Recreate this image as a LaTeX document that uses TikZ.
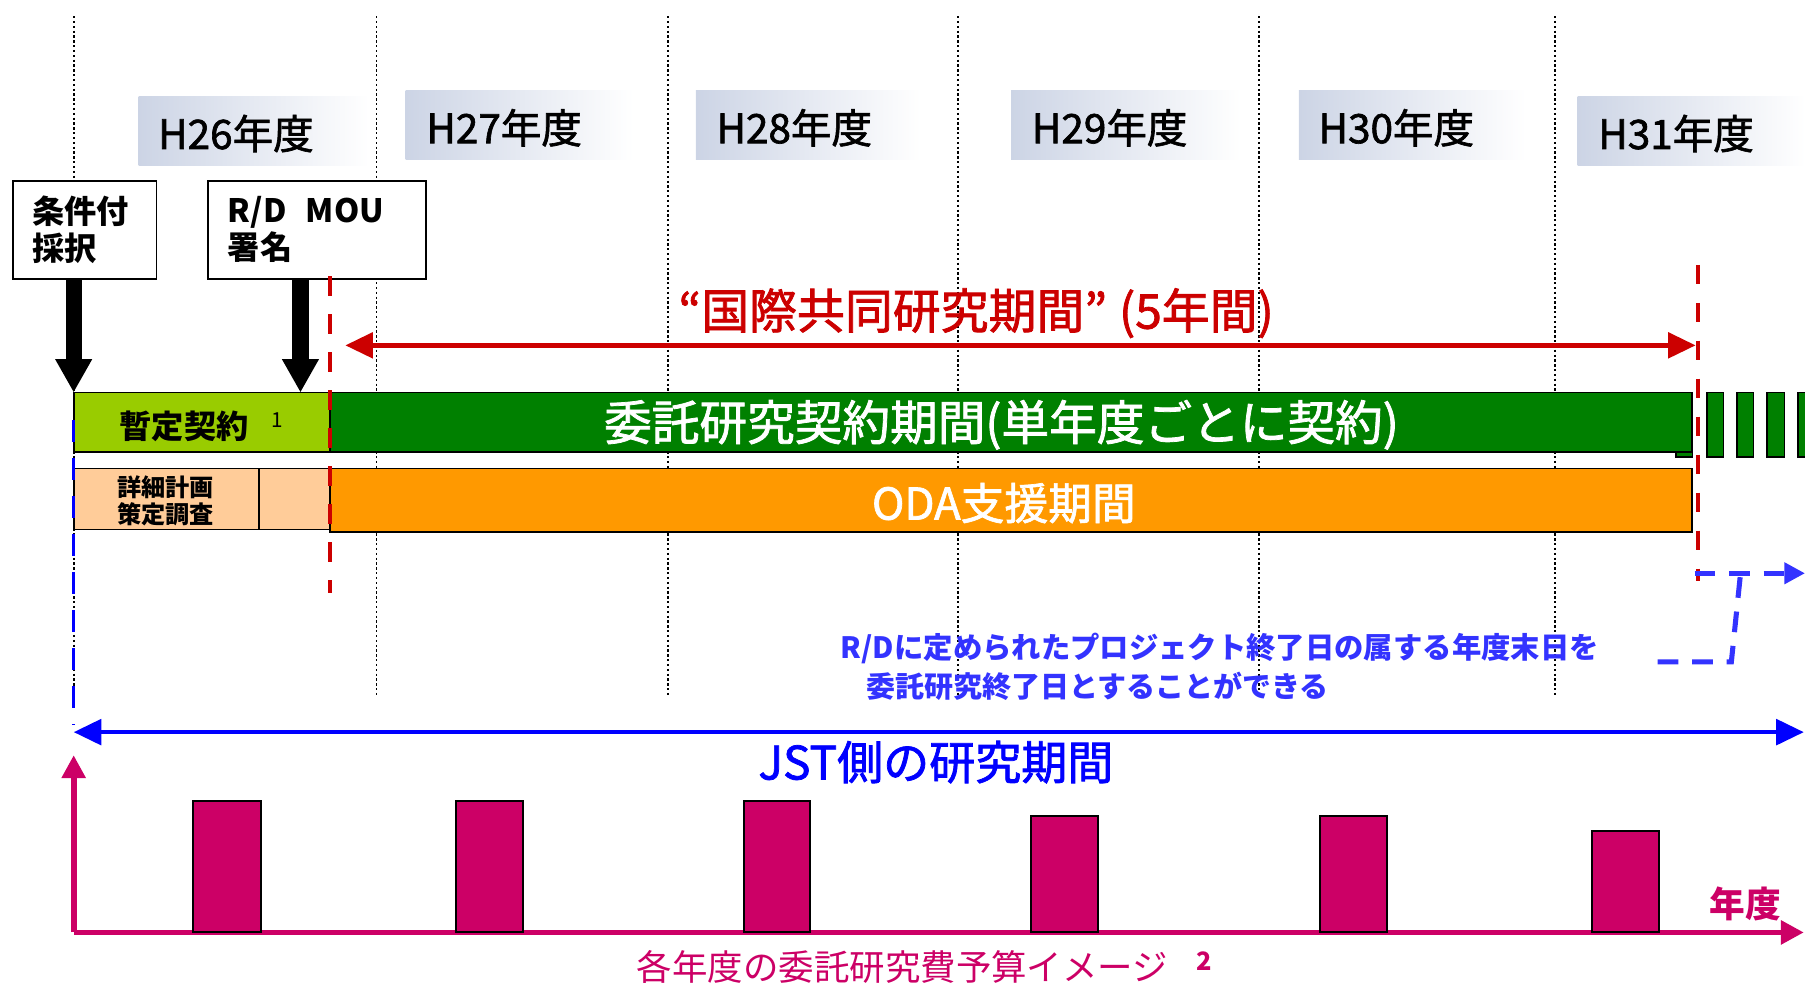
\documentclass[tikz,border=0pt]{standalone}
\usepackage{fontspec}
\setmainfont{Noto Sans CJK JP}
\newfontfamily\medfont[FakeBold=1.6]{Noto Sans CJK JP}
\usetikzlibrary{arrows.meta}
\definecolor{hdr}{HTML}{CCD4E5}
\definecolor{tred}{HTML}{CC0000}
\definecolor{ygreen}{HTML}{99CC00}
\definecolor{dgreen}{HTML}{008000}
\definecolor{peach}{HTML}{FFCC99}
\definecolor{orng}{HTML}{FF9900}
\definecolor{nblue}{HTML}{3333FF}
\definecolor{jblue}{HTML}{0000FF}
\definecolor{mag}{HTML}{CC0066}
\newcommand{\setfs}[1]{\fontsize{#1}{#1}\selectfont}
\tikzset{
  dotv/.style={line width=0.8pt, dash pattern=on 1pt off 1.1pt},
  yearbox/.style={shade, left color=hdr, right color=white, inner sep=0pt, anchor=north west, minimum height=30pt},
  yeartext/.style={anchor=west, inner sep=0pt, font=\medfont\setfs{17.6pt}},
  labbox/.style={draw=black, line width=0.8pt, fill=white, inner xsep=8.5pt, inner ysep=0pt, minimum height=42.5pt, align=left, font=\fontsize{14pt}{16pt}\selectfont\bfseries},
  bar/.style={draw=black, line width=0.8pt, inner sep=0pt},
  bigarrow/.style={line width=7pt, -{Triangle[width=15pt,length=14.5pt]}},
  reddash/.style={tred, line width=1.8pt, dash pattern=on 8.5pt off 8pt},
  redarrow/.style={tred, line width=2pt, {Triangle[width=11pt,length=12pt]}-{Triangle[width=11pt,length=12pt]}},
  bluearrow/.style={jblue, line width=2pt, {Triangle[width=11pt,length=12pt]}-{Triangle[width=11pt,length=12pt]}},
  bluedash/.style={nblue, line width=2.2pt, dash pattern=on 9pt off 6pt},
  blueleft/.style={jblue, line width=1.4pt, dash pattern=on 9.5pt off 7pt},
  magaxis/.style={mag, line width=2.5pt, -{Triangle[width=10pt,length=10pt]}},
  magbar/.style={fill=mag, draw=black, line width=0.9pt},
  whitetxt/.style={white, inner sep=0pt},
}
\begin{document}
\begin{tikzpicture}[x=0.5pt,y=-0.5pt]
\useasboundingbox (0,0) rectangle (1568,856);

% vertical dotted year dividers
\foreach \xx in {64,327,580,832,1094,1351}
  \draw[dotv] (\xx,14) -- (\xx,605);

% year headings
\node[yearbox, minimum width=100pt] (h26) at (120,83) {};
\node[yearbox, minimum width=99pt]  (h27) at (352,78) {};
\node[yearbox, minimum width=98pt]  (h28) at (604,78) {};
\node[yearbox, minimum width=100pt] (h29) at (878,78) {};
\node[yearbox, minimum width=98.5pt] (h30) at (1128,78) {};
\node[yearbox, minimum width=99pt]  (h31) at (1370,83) {};
\node[yeartext] (h26t) at (137,116) {H26年度};
\node[yeartext] (h27t) at (370,111) {H27年度};
\node[yeartext] (h28t) at (622,111) {H28年度};
\node[yeartext] (h29t) at (896,111) {H29年度};
\node[yeartext] (h30t) at (1145,111) {H30年度};
\node[yeartext] (h31t) at (1388,116) {H31年度};

% label boxes
\node[labbox, minimum width=62.5pt, text width=45.5pt] (cond) at (73.5,199.5) {条件付\\採択};
\node[labbox, minimum width=93.5pt, text width=77.5pt] (rd) at (275.5,199.5) {R/D\hspace{0.6em}MOU\\署名};

% small green blocks beyond the end
\fill[dgreen, draw=black, line width=0.6pt] (1456,341) rectangle (1470,397);
\foreach \xa/\xb in {1483/1497,1509/1523,1535/1550,1562/1576}
  \fill[dgreen, draw=black, line width=0.6pt] (\xa,341) rectangle (\xb,397);

% bars
\node[bar, fill=ygreen, minimum width=111.5pt, minimum height=26pt] (prov) at (175.5,367) {};
\node[bar, fill=dgreen, minimum width=591.5pt, minimum height=26pt] (itaku) at (878.5,367) {};
\node[bar, fill=peach, minimum width=80.5pt, minimum height=26.5pt] (shosai) at (144.5,433.5) {};
\node[bar, fill=peach, minimum width=31pt, minimum height=26.5pt] (shosai2) at (256,433.5) {};
\node[bar, fill=orng, minimum width=591.5pt, minimum height=27.5pt] (oda) at (878.5,434.5) {};

\node[inner sep=0pt, font=\setfs{14pt}\bfseries] (provt) at (160,370) {暫定契約};
\node[inner sep=0pt, font=\setfs{9pt}] (fn1) at (241,365) {1};
\node[whitetxt, font=\medfont\setfs{20.7pt}] (itakut) at (870,369) {委託研究契約期間(単年度ごとに契約)};
\node[inner sep=0pt, align=center, font=\setfs{10.5pt}\bfseries] (shosait) at (144,435) {詳細計画\\[1.5pt]策定調査};
\node[whitetxt, font=\medfont\setfs{19pt}] (odat) at (872,437) {ODA支援期間};

% black arrows
\coordinate (a1s) at (64,242);
\coordinate (a1e) at (64,341);
\coordinate (a2s) at (261,242);
\coordinate (a2e) at (261,341);
\draw[bigarrow] (a1s) -- (a1e);
\draw[bigarrow] (a2s) -- (a2e);

% red dashed verticals and arrow
\coordinate (r1s) at (287,240);
\coordinate (r1e) at (287,515);
\coordinate (r2s) at (1475,230);
\coordinate (r2e) at (1475,505);
\draw[reddash] (r1s) -- (r1e);
\draw[reddash] (r2s) -- (r2e);
\coordinate (ra) at (300,300);
\coordinate (rb) at (1473,300);
\draw[redarrow] (ra) -- (rb);
\node[tred, inner sep=0pt, font=\medfont\setfs{20.8pt}] (title) at (848,272) {“国際共同研究期間”\hspace{0.25em}(5年間)};

% blue note
\node[nblue, anchor=west, inner sep=0pt, font=\setfs{12.75pt}\bfseries] (note1) at (730,563) {R/Dに定められたプロジェクト終了日の属する年度末日を};
\node[nblue, anchor=west, inner sep=0pt, font=\setfs{12.6pt}\bfseries] (note2) at (752,596) {委託研究終了日とすることができる};

% blue right dashed connector
\coordinate (b1) at (1472,498);
\coordinate (b2) at (1568,498);
\coordinate (b3) at (1440,575);
\coordinate (b4) at (1504,575);
\coordinate (b5) at (1512,498);
\draw[bluedash, -{Triangle[width=9pt,length=9pt]}] (b1) -- (b2);
\draw[bluedash] (b3) -- (b4) -- (b5);

% JST period
\coordinate (bl1) at (64,365);
\coordinate (bl2) at (64,630);
\draw[blueleft] (bl1) -- (bl2);
\coordinate (ja) at (64,636);
\coordinate (jb) at (1567,636);
\draw[bluearrow] (ja) -- (jb);
\node[jblue, inner sep=0pt, font=\medfont\setfs{20pt}] (jst) at (813,662) {JST側の研究期間};

% budget chart
\coordinate (org) at (64,810);
\coordinate (yt) at (64,656);
\coordinate (xt) at (1567,810);
\draw[magaxis] (org) -- (yt);
\draw[magaxis] (org) -- (xt);
\foreach \xa/\xb/\yt in {168/227/696,396/454/696,646/704/696,896/954/709,1147/1205/709,1383/1441/722}
  \draw[magbar] (\xa,\yt) rectangle (\xb,810);
\node[mag, inner sep=0pt, font=\setfs{15.5pt}\bfseries] (nendo) at (1516,785) {年度};
\node[mag, inner sep=0pt, font=\setfs{15.4pt}] (budget) at (784,840) {各年度の委託研究費予算イメージ};
\node[mag, inner sep=0pt, font=\setfs{11pt}\bfseries] (fn2) at (1046,835) {2};
\end{tikzpicture}
\end{document}
